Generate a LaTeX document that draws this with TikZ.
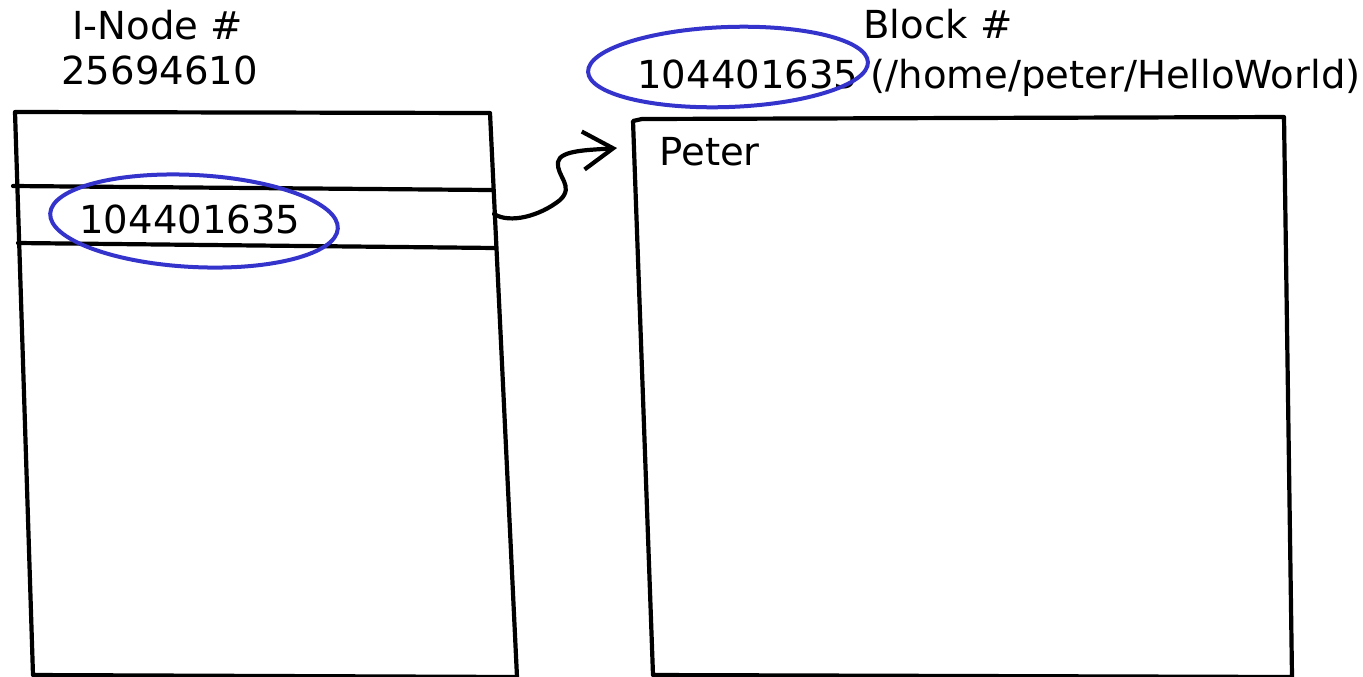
\documentclass[tikz,border=0pt]{standalone}
\usepackage{fontspec}
\setsansfont{DejaVu Sans}
\usetikzlibrary{shapes.geometric, arrows.meta}
\definecolor{inkblue}{RGB}{52,52,205}

\begin{document}
\begin{tikzpicture}[x=0.5pt,y=-0.5pt,font=\sffamily\fontsize{19.3}{23}\selectfont,
    ink/.style={line width=2.1pt, line cap=round, line join=round},
    ring/.style={draw=inkblue, line width=2pt, ellipse, inner sep=0pt},
    label/.style={anchor=base west, inner sep=0pt},
    pointer/.style={ink, -{Straight Barb[length=15pt,width=19pt]}}]
    \useasboundingbox (0,0) rectangle (1363,676);
    % inode table
    \draw[ink] (15,112) -- (490,113) -- (517,677) -- (33,675) -- cycle;
    \draw[ink] (13,186) -- (491,190);
    \draw[ink] (18,243) -- (496,248);
    \node (inodetitle) [label] at (72,39) {I-Node \#};
    \node (inodenum) [label] at (61,84) {25694610};
    \node (blockptr) [label] at (79,233) {104401635};
    \node (ptrring) [ring, minimum width=144pt, minimum height=46pt, rotate=-3] at (194,221) {};
    % data block
    \draw[ink] (633,121) -- (642,119) -- (1284,117) -- (1292,677) -- (653,675) -- cycle;
    \node (blocktitle) [label] at (863,38) {Block \#};
    \node (blockpath) [label] at (637,88) {104401635 (/home/peter/HelloWorld)};
    \node (numring) [ring, minimum width=140pt, minimum height=40pt, rotate=2] at (728,67) {};
    \node (content) [label] at (659,165) {Peter};
    % pointer from table entry to block
    \coordinate (cellport) at (494,214);
    \coordinate (blockport) at (617,148);
    \draw[pointer] (cellport) .. controls (510,224) and (540,216) .. (560,200)
        .. controls (575,186) and (556,176) .. (558,162)
        .. controls (560,150) and (590,150) .. (blockport);
\end{tikzpicture}
\end{document}
